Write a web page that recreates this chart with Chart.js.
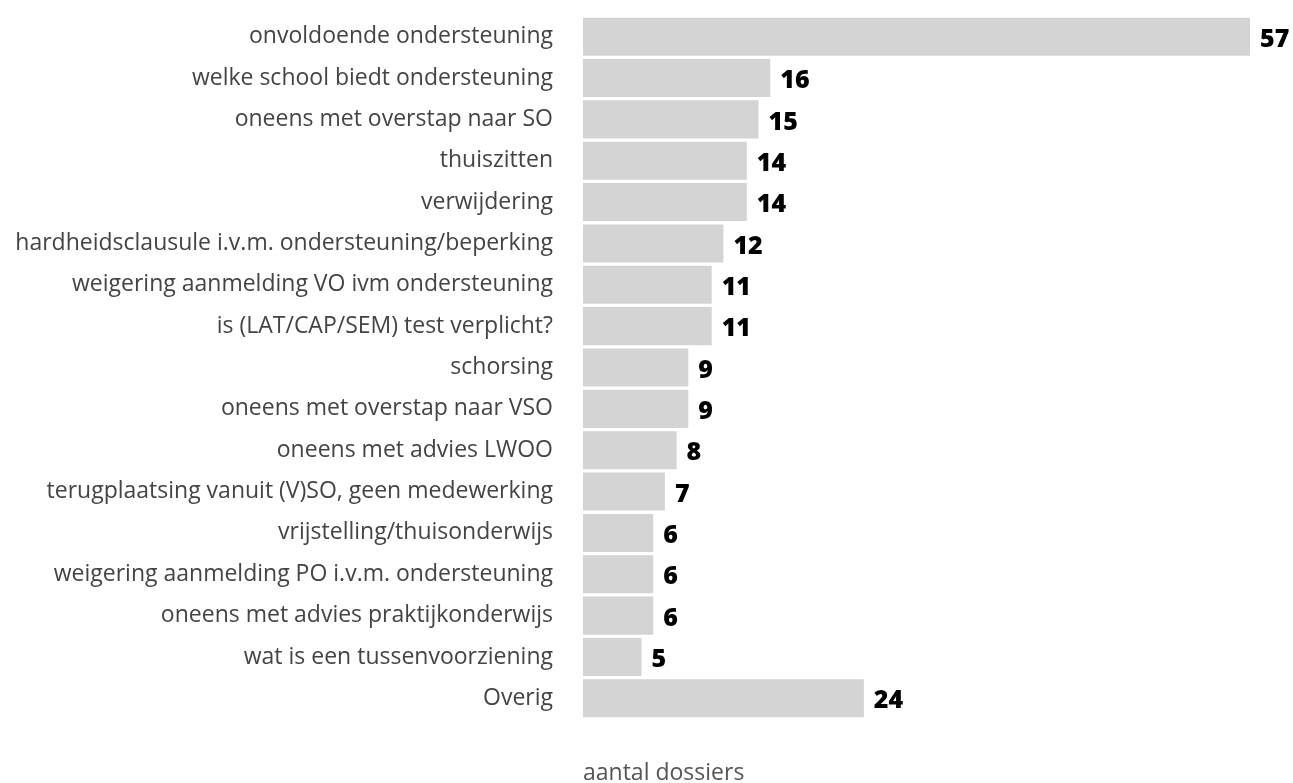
<!DOCTYPE html>
<html>
<head>
<meta charset="utf-8">
<script src="https://cdn.jsdelivr.net/npm/chart.js@4"></script>
<style>
    html, body { margin: 0; padding: 0; background: #fff; }
    #wrap { width: 1293px; height: 783px; }
</style>
</head>
<body>
<div id="wrap"><canvas id="chart"></canvas></div>
<script>
// Data
const categories = [
    'onvoldoende ondersteuning',
    'welke school biedt ondersteuning',
    'oneens met overstap naar SO',
    'thuiszitten',
    'verwijdering',
    'hardheidsclausule i.v.m. ondersteuning/beperking',
    'weigering aanmelding VO ivm ondersteuning',
    'is (LAT/CAP/SEM) test verplicht?',
    'schorsing',
    'oneens met overstap naar VSO',
    'oneens met advies LWOO',
    'terugplaatsing vanuit (V)SO, geen medewerking',
    'vrijstelling/thuisonderwijs',
    'weigering aanmelding PO i.v.m. ondersteuning',
    'oneens met advies praktijkonderwijs',
    'wat is een tussenvoorziening',
    'Overig'
];
const dossiers = [57, 16, 15, 14, 14, 12, 11, 11, 9, 9, 8, 7, 6, 6, 6, 5, 24];
const axisTitle = 'aantal dossiers';

const fontFamily = '"Open Sans", Lato, sans-serif';

// Draw values at the end of each bar
const valueLabels = {
    id: 'valueLabels',
    afterDatasetsDraw(chart) {
        const ctx = chart.ctx;
        const meta = chart.getDatasetMeta(0);
        ctx.save();
        ctx.font = '800 25px ' + fontFamily;
        ctx.fillStyle = '#000';
        ctx.textAlign = 'left';
        ctx.textBaseline = 'middle';
        meta.data.forEach((bar, i) => {
            ctx.fillText(String(dossiers[i]), bar.x + 10, bar.y + 3);
        });
        ctx.restore();
    }
};

const ctx = document.getElementById('chart').getContext('2d');
new Chart(ctx, {
    type: 'bar',
    data: {
        labels: categories,
        datasets: [{
            data: dossiers,
            backgroundColor: '#d4d4d4',
            borderWidth: 0,
            barPercentage: 0.92,
            categoryPercentage: 1.0
        }]
    },
    options: {
        indexAxis: 'y',
        responsive: true,
        maintainAspectRatio: false,
        animation: false,
        layout: {
            padding: { top: 16, right: 43, left: 0, bottom: 0 }
        },
        plugins: {
            legend: { display: false },
            tooltip: { enabled: false }
        },
        scales: {
            x: {
                min: 0,
                max: 57,
                grid: { display: false },
                border: { display: false },
                ticks: { display: false },
                title: {
                    display: true,
                    text: axisTitle,
                    align: 'start',
                    color: '#555',
                    font: { family: fontFamily, size: 23 },
                    padding: { top: 0, bottom: -4 }
                },
                afterFit(scale) {
                    scale.height = 64;
                    scale.paddingLeft = 0;
                    scale.paddingRight = 0;
                }
            },
            y: {
                grid: { display: false },
                border: { display: false },
                ticks: {
                    color: '#444',
                    padding: 22,
                    autoSkip: false,
                    font: { family: fontFamily, size: 23 }
                },
                afterFit(scale) {
                    scale.width = 583;
                    scale.paddingTop = 0;
                    scale.paddingBottom = 0;
                }
            }
        }
    },
    plugins: [valueLabels]
});
</script>
</body>
</html>
